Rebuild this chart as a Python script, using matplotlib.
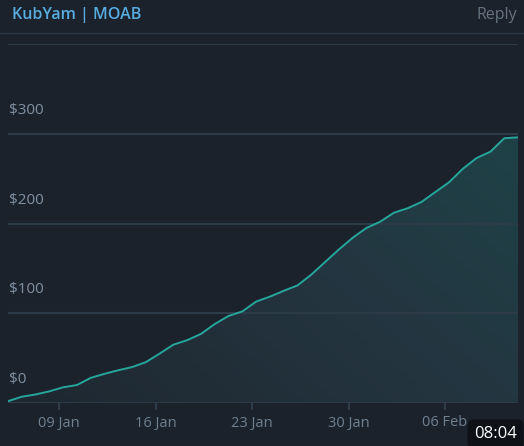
import numpy as np
import pandas as pd
import matplotlib.pyplot as plt
import matplotlib.dates as mdates
from matplotlib.colors import LinearSegmentedColormap
from matplotlib.patches import Polygon

plt.rcParams['font.family'] = ['Open Sans', 'DejaVu Sans']

# valeurs (une par jour)
dates = pd.date_range('2022-01-05 07:00', periods=38, freq='D')
values = [2, 7, 9.5, 13, 17.5, 20, 28, 32.5, 36.5, 40,
          45.5, 55, 65, 70, 77, 88, 97, 102, 113, 118.5,
          125, 131, 143, 157, 171, 184, 195, 202, 212, 217,
          224, 235, 246, 261, 273, 280, 295, 296]
yticks = [0, 100, 200, 300]
xticks = pd.to_datetime(['2022-01-09', '2022-01-16', '2022-01-23', '2022-01-30', '2022-02-06'])
xlabels = ['09 Jan', '16 Jan', '23 Jan', '30 Jan', '06 Feb']

bg = '#1b222c'
grid = '#2d3b48'
line_col = '#26a69a'

fig = plt.figure(figsize=(5.24, 4.46), dpi=100, facecolor=bg)
ax = fig.add_axes([8 / 524, (446 - 403) / 446, 510 / 524, (403 - 44) / 446])
ax.set_facecolor(bg)

x = mdates.date2num(dates)
ax.set_xlim(x[0], x[-1])
ax.set_ylim(0, 400)

# remplissage en dégradé sous la courbe
cmap = LinearSegmentedColormap.from_list('g', ['#1e2730', '#243540', '#1c4649'])
xx, yy = np.meshgrid(np.linspace(0, 1, 200), np.linspace(0, 1, 200))
grad = 0.55 * xx + 0.45 * yy
img = ax.imshow(grad, cmap=cmap, origin='lower', aspect='auto',
                extent=(x[0], x[-1], 0, 400), zorder=1)
poly = Polygon(np.column_stack([np.r_[x[0], x, x[-1]], np.r_[0, values, 0]]),
               closed=True, transform=ax.transData, facecolor='none', edgecolor='none')
ax.add_patch(poly)
img.set_clip_path(poly)

ax.plot(x, values, color=line_col, lw=1.4, zorder=3)

# grille horizontale
for v in [100, 200, 300, 400]:
    ax.axhline(v, color=grid, lw=1.5, zorder=2)
ax.axhline(0, color='#2f3d4a', lw=2, zorder=2)

for v in yticks:
    ax.text(0.001, v + 26, f'${v}', transform=ax.get_yaxis_transform(),
            color='#8191a3', fontsize=11, va='center', ha='left', zorder=4)

for s in ax.spines.values():
    s.set_visible(False)
ax.set_yticks([])
ax.set_xticks(mdates.date2num(xticks))
ax.set_xticklabels(xlabels)
ax.tick_params(axis='x', colors='#334352', length=5, width=1.2, pad=4,
               labelcolor='#6f8091', labelsize=10.5)

# en-tête
fig.text(12 / 524, 1 - 15 / 446, 'KubYam | MOAB', color='#58ace0', fontsize=11.5,
         fontweight='semibold', va='center', ha='left')
fig.text(517 / 524, 1 - 15 / 446, 'Reply', color='#66737f', fontsize=11.5,
         va='center', ha='right')
fig.add_artist(plt.Line2D([0, 1], [1 - 32.5 / 446] * 2, color='#2a3744', lw=1))

fig.text(517 / 524, 1 - 434 / 446, '08:04', color='white', fontsize=12,
         va='center', ha='right',
         bbox=dict(boxstyle='round,pad=0.4', facecolor='#0e1216', edgecolor='none'))

plt.savefig('out.png', dpi=100, facecolor=bg)
